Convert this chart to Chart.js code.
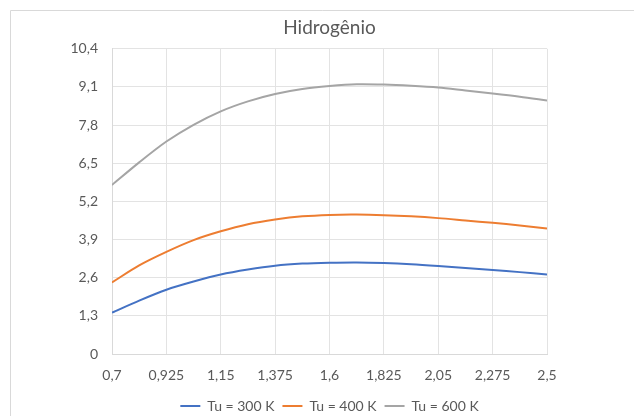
<!DOCTYPE html>
<html>
<head>
<meta charset="utf-8">
<script src="https://cdn.jsdelivr.net/npm/chart.js@4"></script>
<style>
  html, body { margin: 0; padding: 0; background: #fff; }
  #wrap { position: relative; width: 634px; height: 416px; }
</style>
</head>
<body>
<div id="wrap"><canvas id="chart" width="634" height="416"></canvas></div>
<script>
// x positions (sample points along the axis) and tick labels
const xValues = [0.7, 0.8125, 0.925, 1.0375, 1.15, 1.2625, 1.375, 1.4875, 1.6,
                 1.7125, 1.825, 1.9375, 2.05, 2.1625, 2.275, 2.3875, 2.5];
const xTicks = [0.7, 0.925, 1.15, 1.375, 1.6, 1.825, 2.05, 2.275, 2.5];
const yTicks = [0, 1.3, 2.6, 3.9, 5.2, 6.5, 7.8, 9.1, 10.4];

// series
const tu300 = [1.41, 1.82, 2.19, 2.47, 2.71, 2.88, 3.01, 3.08, 3.11,
               3.12, 3.10, 3.06, 3.00, 2.93, 2.86, 2.79, 2.71];
const tu400 = [2.44, 3.02, 3.48, 3.88, 4.18, 4.42, 4.58, 4.69, 4.74,
               4.75, 4.73, 4.69, 4.63, 4.55, 4.47, 4.38, 4.28];
const tu600 = [5.76, 6.53, 7.24, 7.81, 8.27, 8.61, 8.86, 9.03, 9.13,
               9.19, 9.18, 9.14, 9.08, 8.98, 8.88, 8.77, 8.64];

const labelText = (v) => String(v).replace('.', ',');
const pts = (ys) => xValues.map((x, i) => ({ x: x, y: ys[i] }));

Chart.defaults.font.family = "Lato, 'Open Sans', sans-serif";
Chart.defaults.color = '#595959';

// light frame like the spreadsheet chart area
const frame = {
    id: 'frame',
    beforeDraw(chart) {
        const c = chart.ctx;
        c.save();
        c.strokeStyle = '#d9d9d9';
        c.lineWidth = 1;
        c.beginPath();
        c.moveTo(10.5, 416);
        c.lineTo(10.5, 10.5);
        c.lineTo(634, 10.5);
        c.stroke();
        c.restore();
    }
};

const line = (label, data, color) => ({
    label: label,
    data: pts(data),
    borderColor: color,
    backgroundColor: color,
    borderWidth: 2,
    pointRadius: 0,
    tension: 0.3,
    fill: false
});

new Chart(document.getElementById('chart'), {
    type: 'line',
    data: {
        datasets: [
            line('Tu = 300 K', tu300, '#4472C4'),
            line('Tu = 400 K', tu400, '#ED7D31'),
            line('Tu = 600 K', tu600, '#A5A5A5')
        ]
    },
    plugins: [frame],
    options: {
        responsive: false,
        animation: false,
        layout: { padding: { left: 0, right: 87, top: 12, bottom: -7 } },
        plugins: {
            title: {
                display: true,
                fullSize: false,
                text: 'Hidrogênio',
                color: '#595959',
                font: { size: 19, weight: 'normal' },
                padding: { top: 4, bottom: 10 }
            },
            legend: {
                position: 'bottom',
                fullSize: false,
                labels: {
                    usePointStyle: true,
                    pointStyle: 'line',
                    pointStyleWidth: 20,
                    boxHeight: 14,
                    color: '#595959',
                    font: { size: 14 },
                    padding: 8
                }
            },
            tooltip: { enabled: false }
        },
        scales: {
            x: {
                type: 'linear',
                min: 0.7,
                max: 2.5,
                afterBuildTicks: (s) => { s.ticks = xTicks.map(v => ({ value: v })); },
                afterFit: (s) => { s.height = 37; },
                ticks: {
                    callback: (v) => labelText(v),
                    color: '#595959',
                    font: { size: 14 },
                    maxRotation: 0,
                    padding: 13
                },
                grid: { color: '#e3e3e3', drawTicks: false },
                border: { color: '#d9d9d9' }
            },
            y: {
                min: 0,
                max: 10.4,
                afterBuildTicks: (s) => { s.ticks = yTicks.map(v => ({ value: v })); },
                afterFit: (s) => { s.width = 112; },
                ticks: {
                    callback: (v) => labelText(v),
                    color: '#595959',
                    font: { size: 14 },
                    padding: 14
                },
                grid: { color: '#e3e3e3', drawTicks: false },
                border: { color: '#d9d9d9' }
            }
        }
    }
});
</script>
</body>
</html>
